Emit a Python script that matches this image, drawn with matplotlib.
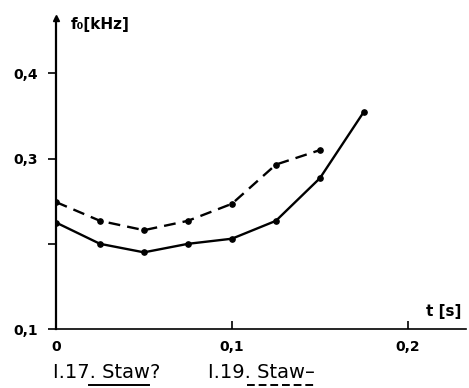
#!/usr/bin/env python3
"""
Fundamental frequency f0 over time for two 'Staw' utterances (I.17 and I.19)
"""

import matplotlib
matplotlib.use("Agg")
import matplotlib.pyplot as plt
from matplotlib.lines import Line2D

# time points [s]
t_i17 = [0.0, 0.025, 0.05, 0.075, 0.1, 0.125, 0.15, 0.175]
t_i19 = [0.0, 0.025, 0.05, 0.075, 0.1, 0.125, 0.15]

# f0 [kHz]
f0_i17 = [0.225, 0.200, 0.190, 0.200, 0.206, 0.227, 0.277, 0.355]
f0_i19 = [0.249, 0.227, 0.216, 0.227, 0.247, 0.293, 0.310]

x_ticks = [0.0, 0.1, 0.2]
x_tick_labels = ["0", "0,1", "0,2"]
y_ticks = [0.1, 0.2, 0.3, 0.4]
y_tick_labels = ["0,1", "", "0,3", "0,4"]


def main():
    plt.rcParams["font.family"] = ["DejaVu Sans"]
    fig = plt.figure(figsize=(4.69, 3.88), dpi=100)
    ax = fig.add_axes([0.1194, 0.152, 0.874, 0.8015])

    # curves
    ax.plot(t_i17, f0_i17, color="black", linewidth=1.7, marker="o",
            markersize=3.8, solid_capstyle="round")
    ax.plot(t_i19, f0_i19, color="black", linewidth=1.7, marker="o",
            markersize=3.8, dashes=(5, 3))

    ax.set_xlim(0, 0.233)
    ax.set_ylim(0.1, 0.465)

    # only left and bottom axis, with arrow heads
    ax.spines["top"].set_visible(False)
    ax.spines["right"].set_visible(False)
    ax.spines["left"].set_linewidth(1.6)
    ax.spines["bottom"].set_linewidth(1.2)
    ax.plot(1, 0, ">", color="black", markersize=4,
            transform=ax.get_yaxis_transform(), clip_on=False)
    ax.plot(0, 1, "^", color="black", markersize=5,
            transform=ax.get_xaxis_transform(), clip_on=False)

    ax.set_xticks(x_ticks)
    ax.set_xticklabels(x_tick_labels)
    ax.set_yticks(y_ticks)
    ax.set_yticklabels(y_tick_labels)
    ax.tick_params(axis="x", direction="in", length=6, width=1.2,
                   labelsize=10, pad=8)
    ax.tick_params(axis="y", direction="out", length=6, width=1.2,
                   labelsize=10, pad=7)
    for lab in ax.get_xticklabels() + ax.get_yticklabels():
        lab.set_fontweight("bold")

    # axis titles
    ax.text(0.037, 0.98, "f\u2080[kHz]", transform=ax.transAxes,
            fontsize=11, fontweight="bold", va="center", ha="left")
    ax.text(0.99, 0.055, "t [s]", transform=ax.transAxes,
            fontsize=11, fontweight="bold", va="center", ha="right")

    # caption under the plot
    fig.text(0.113, 0.026, "I.17. Staw?", fontsize=14, ha="left", va="baseline")
    fig.text(0.443, 0.026, "I.19. Staw\u2013", fontsize=14, ha="left", va="baseline")
    fig.add_artist(Line2D([0.19, 0.318], [0.008, 0.008], color="black",
                          linewidth=1.4, transform=fig.transFigure))
    fig.add_artist(Line2D([0.527, 0.672], [0.008, 0.008], color="black",
                          linewidth=1.4, dashes=(4, 2), transform=fig.transFigure))

    fig.savefig("out.png", dpi=100)


if __name__ == "__main__":
    main()
